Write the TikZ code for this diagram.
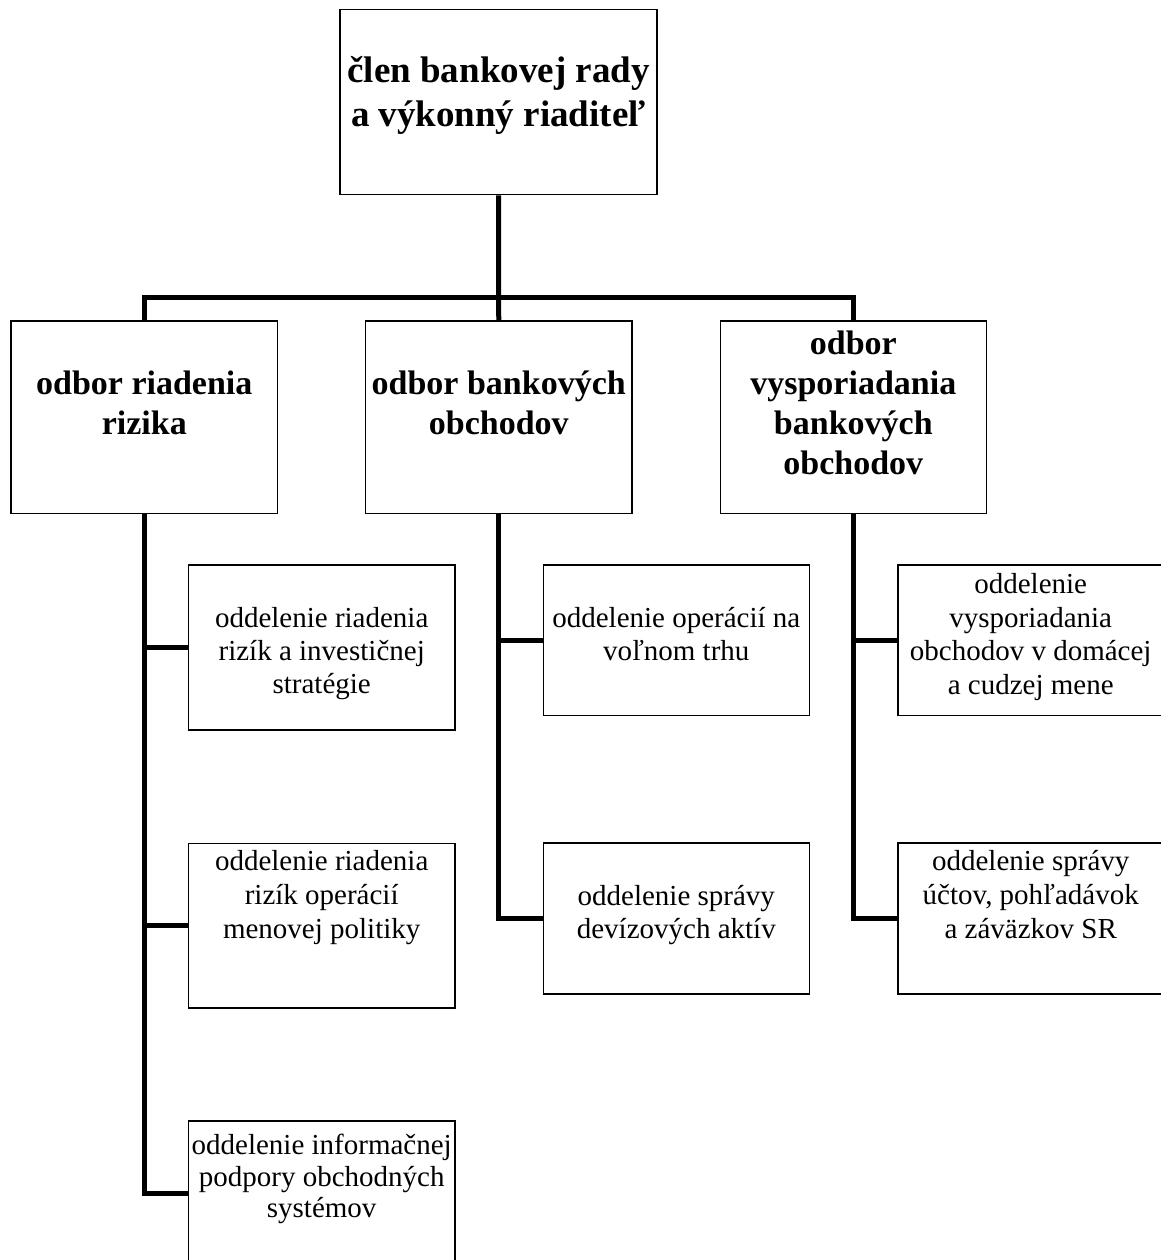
\documentclass[tikz,border=0pt]{standalone}
\usepackage{fontspec}
\setmainfont{Liberation Serif}
\begin{document}
\begin{tikzpicture}[x=1pt,y=-1pt,
  box/.style={draw=black,line width=1.6pt,rectangle,inner sep=0pt},
  conn/.style={draw=black,line width=5pt,line join=miter},
  ttl/.style={inner sep=0pt,anchor=north,align=center,font=\bfseries\fontsize{37}{44}\selectfont},
  hd/.style={inner sep=0pt,anchor=north,align=center,font=\bfseries\fontsize{34}{40}\selectfont},
  sub/.style={inner sep=0pt,anchor=north,align=center,font=\fontsize{29}{#1}\selectfont},
  sub/.default=33]
\useasboundingbox (0,0) rectangle (1161,1260);
\clip (0,0) rectangle (1161,1260);
\fill[white] (0,0) rectangle (1161,1260);
% boxes
\node[box,minimum width=316.5pt,minimum height=185pt] (top) at (498.5,102) {};
\node[box,minimum width=266.5pt,minimum height=192.5pt] (r1) at (144.25,417.25) {};
\node[box,minimum width=266.5pt,minimum height=192.5pt] (r2) at (498.75,417.25) {};
\node[box,minimum width=266pt,minimum height=192.5pt] (r3) at (853.3,417.25) {};
\node[box,minimum width=266.7pt,minimum height=165pt] (a1) at (321.7,647.5) {};
\node[box,minimum width=266.7pt,minimum height=164.5pt] (a2) at (321.7,925.6) {};
\node[box,minimum width=266.7pt,minimum height=145pt] (a3) at (321.7,1193.2) {};
\node[box,minimum width=266pt,minimum height=150.7pt] (m1) at (676.3,640.3) {};
\node[box,minimum width=266pt,minimum height=150.7pt] (m2) at (676.3,918.6) {};
\node[box,minimum width=266pt,minimum height=150.7pt] (q1) at (1030.7,640.3) {};
\node[box,minimum width=266pt,minimum height=150.7pt] (q2) at (1030.7,918.6) {};
% texts
\node[ttl] (ttop) at (498.5,52) {\strut člen bankovej rady\\a výkonný riaditeľ};
\node[hd] (tr1) at (144.25,365.8) {\strut odbor riadenia\\rizika};
\node[hd] (tr2) at (498.75,365.8) {\strut odbor bankových\\obchodov};
\node[hd] (tr3) at (853.3,326) {\strut odbor\\vysporiadania\\bankových\\obchodov};
\node[sub=33] (ta1) at (321.7,604.2) {\strut oddelenie riadenia\\rizík a investičnej\\stratégie};
\node[sub=34] (ta2) at (321.7,846.2) {\strut oddelenie riadenia\\rizík operácií\\menovej politiky};
\node[sub=31.5] (ta3) at (321.7,1132.25) {\strut oddelenie informačnej\\podpory obchodných\\systémov};
\node[sub=33] (tm1) at (676.3,603.9) {\strut oddelenie operácií na\\voľnom trhu};
\node[sub=33.3] (tm2) at (676.3,881.7) {\strut oddelenie správy\\devízových aktív};
\node[sub=33.5] (tq1) at (1030.7,569.85) {\strut oddelenie\\vysporiadania\\obchodov v domácej\\a cudzej mene};
\node[sub=34] (tq2) at (1030.7,846.2) {\strut oddelenie správy\\účtov, pohľadávok\\a záväzkov SR};
% connectors
\coordinate (bus) at (498.5,297.5);
\draw[conn] (top.south) -- (r2.north);
\draw[conn] (r1.north) -- (r1.north |- bus) -- (r3.north |- bus) -- (r3.north);
\draw[conn] (r1.south) -- (r1.south |- a3.west) -- (a3.west);
\draw[conn] (r1.south |- a1.west) -- (a1.west);
\draw[conn] (r1.south |- a2.west) -- (a2.west);
\draw[conn] (r2.south) -- (r2.south |- m2.west) -- (m2.west);
\draw[conn] (r2.south |- m1.west) -- (m1.west);
\draw[conn] (r3.south) -- (r3.south |- q2.west) -- (q2.west);
\draw[conn] (r3.south |- q1.west) -- (q1.west);
\end{tikzpicture}
\end{document}
